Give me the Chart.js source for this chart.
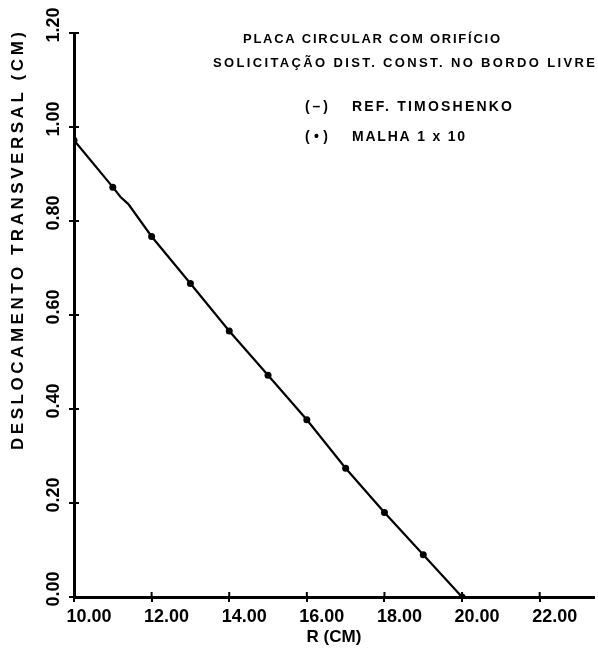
<!DOCTYPE html>
<html>
<head>
<meta charset="utf-8">
<script src="https://cdn.jsdelivr.net/npm/chart.js@4"></script>
<style>
  body { margin: 0; background: #fff; }
  #wrap { width: 598px; height: 650px; }
</style>
</head>
<body>
<div id="wrap"><canvas id="chart"></canvas></div>
<script>
// reference curve (Timoshenko)
const timoX = [10, 11, 11.2, 11.4, 12, 13, 14, 15, 16, 17, 18, 19, 20];
const timoY = [0.972, 0.872, 0.851, 0.836, 0.767, 0.667, 0.566, 0.472, 0.377, 0.274, 0.180, 0.090, 0];

// mesh 1 x 10 results
const malhaX = [10, 11, 12, 13, 14, 15, 16, 17, 18, 19, 20];
const malhaY = [0.972, 0.872, 0.767, 0.667, 0.566, 0.472, 0.377, 0.274, 0.180, 0.090, 0];

const xTicks = [10, 12, 14, 16, 18, 20, 22];
const yTicks = [0, 0.2, 0.4, 0.6, 0.8, 1.0, 1.2];

const titleLines = ["PLACA CIRCULAR COM ORIFÍCIO", "SOLICITAÇÃO DIST. CONST. NO BORDO LIVRE"];
const legendMarks = ["(–)", "(•)"];
const legendTexts = ["REF. TIMOSHENKO", "MALHA 1 x 10"];
const yTitle = "DESLOCAMENTO TRANSVERSAL (CM)";

const FONT = "'Liberation Sans', Arial, sans-serif";

function toPts(xs, ys){
    return xs.map((x, i) => ({ x: x, y: ys[i] }));
}

// draw text stretched with letter spacing to span a given width
function spaced(ctx, text, x, y, width){
    ctx.letterSpacing = "0px";
    let w = ctx.measureText(text).width;
    let sp = (width - w) / Math.max(text.length - 1, 1);
    ctx.letterSpacing = sp + "px";
    ctx.fillText(text, x, y);
    ctx.letterSpacing = "0px";
}

const annotate = {
    id: "annotate",
    afterDraw(chart){
        const ctx = chart.ctx;
        ctx.save();
        ctx.fillStyle = "#000";
        ctx.textBaseline = "middle";
        ctx.textAlign = "left";
        ctx.font = "bold 13px " + FONT;
        spaced(ctx, titleLines[0], 243, 39, 257);
        spaced(ctx, titleLines[1], 213, 63, 382);
        ctx.font = "bold 14px " + FONT;
        spaced(ctx, legendMarks[0], 305, 107, 23);
        spaced(ctx, legendTexts[0], 352, 107, 160);
        spaced(ctx, legendMarks[1], 305, 137, 23);
        spaced(ctx, legendTexts[1], 352, 137, 113);

        // y axis title, rotated
        ctx.font = "bold 17px " + FONT;
        ctx.translate(18, 450);
        ctx.rotate(-Math.PI / 2);
        spaced(ctx, yTitle, 0, 0, 418);
        ctx.restore();

        // small inward tick marks so ticks cross the axes
        const xs = chart.scales.x, ys = chart.scales.y;
        ctx.save();
        ctx.strokeStyle = "#000";
        ctx.lineWidth = 2;
        ctx.beginPath();
        xTicks.forEach(v => {
            let px = xs.getPixelForValue(v);
            ctx.moveTo(px, xs.top);
            ctx.lineTo(px, xs.top - 5);
        });
        yTicks.forEach(v => {
            let py = ys.getPixelForValue(v);
            ctx.moveTo(ys.right, py);
            ctx.lineTo(ys.right + 5, py);
        });
        ctx.stroke();
        ctx.restore();
    }
};

new Chart(document.getElementById("chart"), {
    type: "scatter",
    data: {
        datasets: [{
            label: legendTexts[0],
            data: toPts(timoX, timoY),
            showLine: true,
            borderColor: "#000",
            borderWidth: 2.2,
            pointRadius: 0,
            tension: 0
        }, {
            label: legendTexts[1],
            data: toPts(malhaX, malhaY),
            showLine: false,
            pointRadius: 3.5,
            pointBackgroundColor: "#000",
            pointBorderColor: "#000",
            pointBorderWidth: 0
        }]
    },
    plugins: [annotate],
    options: {
        responsive: true,
        maintainAspectRatio: false,
        animation: false,
        layout: { padding: { top: 33, right: 2, left: 0, bottom: 0 } },
        plugins: {
            legend: { display: false },
            tooltip: { enabled: false }
        },
        scales: {
            x: {
                type: "linear",
                min: 10,
                max: 23.4,
                afterBuildTicks: s => { s.ticks = xTicks.map(v => ({ value: v })); },
                afterFit: s => { s.height = 53; },
                border: { color: "#000", width: 3 },
                grid: { drawOnChartArea: false, color: "#000", lineWidth: 2, tickLength: 5 },
                ticks: {
                    color: "#000",
                    font: { family: FONT, size: 18, weight: "bold" },
                    padding: 4,
                    labelOffset: 15,
                    maxRotation: 0,
                    callback: v => Number(v).toFixed(2)
                },
                title: {
                    display: true,
                    text: "R (CM)",
                    color: "#000",
                    font: { family: FONT, size: 17, weight: "bold" },
                    padding: { top: 0, bottom: 2 }
                }
            },
            y: {
                min: 0,
                max: 1.2,
                afterBuildTicks: s => { s.ticks = yTicks.map(v => ({ value: v })); },
                afterFit: s => { s.width = 74; },
                border: { color: "#000", width: 3 },
                grid: { drawOnChartArea: false, color: "#000", lineWidth: 2, tickLength: 5 },
                ticks: {
                    color: "#000",
                    font: { family: FONT, size: 18, weight: "bold" },
                    minRotation: 90,
                    maxRotation: 90,
                    crossAlign: "center",
                    padding: -3,
                    labelOffset: -8,
                    callback: v => Number(v).toFixed(2)
                }
            }
        }
    }
});
</script>
</body>
</html>
